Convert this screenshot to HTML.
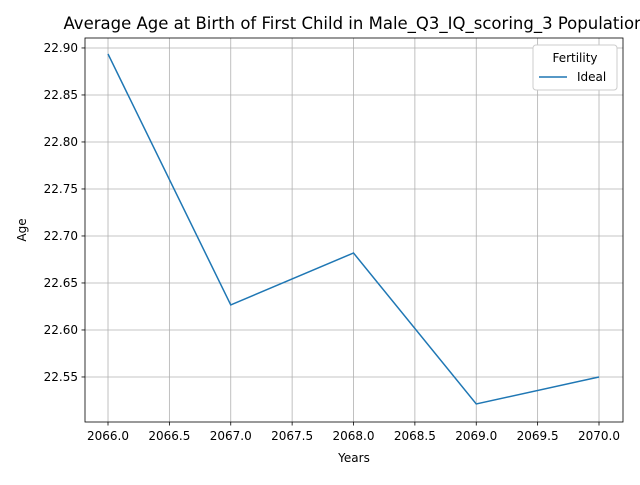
<!DOCTYPE html>
<html><head><meta charset="utf-8"><style>
body{margin:0;background:#fff;}
svg text{font-family:"DejaVu Sans","Liberation Sans",sans-serif;fill:#000;}
</style></head><body>
<svg id="chart" width="640" height="480" xmlns="http://www.w3.org/2000/svg">
<rect width="640" height="480" fill="#fff"/>
<g id="grid"></g>
<g id="ticks"></g>
<g id="series"></g>
<rect x="85" y="38" width="538" height="384" fill="none" stroke="#000" stroke-width="0.8"/>
<text x="354" y="29" font-size="16.5" text-anchor="middle">Average Age at Birth of First Child in Male_Q3_IQ_scoring_3 Population</text>
<text x="354" y="462" font-size="12" text-anchor="middle">Years</text>
<text transform="translate(26,230) rotate(-90)" font-size="12" text-anchor="middle">Age</text>
<g>
<rect x="533" y="45" width="84" height="45" rx="3" fill="#fff" stroke="#ccc" stroke-width="1"/>
<text x="575" y="62" font-size="12" text-anchor="middle">Fertility</text>
<line x1="539" y1="77" x2="567" y2="77" stroke="#1f77b4" stroke-width="1.5"/>
<text x="577" y="81" font-size="12">Ideal</text>
</g>
</svg>
<script>
const years=[2066,2067,2068,2069,2070];
const ideal=[22.8936,22.6266,22.6819,22.5213,22.5500];
const xTicks=[2066.0,2066.5,2067.0,2067.5,2068.0,2068.5,2069.0,2069.5,2070.0];
const yTicks=[22.55,22.60,22.65,22.70,22.75,22.80,22.85,22.90];
const L=85,R=623,T=38,B=422;
const x0=2065.8126,x1=2070.1955,y0=22.5021,y1=22.9106;
const sx=v=>L+(v-x0)/(x1-x0)*(R-L);
const sy=v=>B-(v-y0)/(y1-y0)*(B-T);
const NS="http://www.w3.org/2000/svg";
const grid=document.getElementById('grid'),ticks=document.getElementById('ticks'),series=document.getElementById('series');
function mk(tag,attrs,parent){const e=document.createElementNS(NS,tag);for(const k in attrs)e.setAttribute(k,attrs[k]);parent.appendChild(e);return e;}
xTicks.forEach(v=>{const x=sx(v);
 const g=mk('line',{x1:x,x2:x,y1:T,y2:B,stroke:'#b0b0b0','stroke-width':0.8},grid);
 
 
 const t=mk('line',{x1:x,x2:x,y1:B,y2:B+3.5,stroke:'#000','stroke-width':0.8},ticks);
 
 
 const l=mk('text',{x:x,y:B+18,'font-size':12,'text-anchor':'middle'},ticks);l.textContent=v.toFixed(1);
 
 
});
yTicks.forEach(v=>{const y=sy(v);
 const g=mk('line',{x1:L,x2:R,y1:y,y2:y,stroke:'#b0b0b0','stroke-width':0.8},grid);
 
 
 const t=mk('line',{x1:L-3.5,x2:L,y1:y,y2:y,stroke:'#000','stroke-width':0.8},ticks);
 
 
 const l=mk('text',{x:L-7,y:y+4,'font-size':12,'text-anchor':'end'},ticks);l.textContent=v.toFixed(2);
 
 
});
const p=mk('polyline',{points:years.map((y,i)=>sx(y)+','+sy(ideal[i])).join(' '),fill:'none',stroke:'#1f77b4','stroke-width':1.5},series);


</script>
</body></html>
